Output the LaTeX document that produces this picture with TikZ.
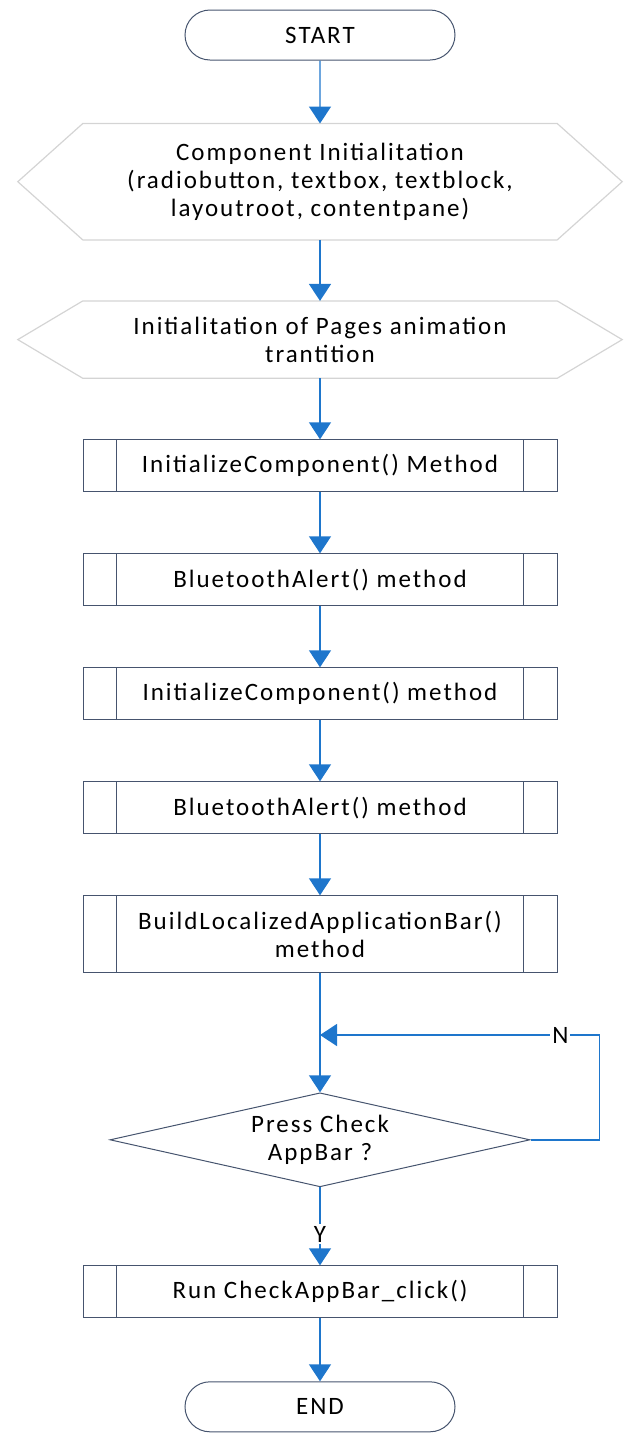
\documentclass[tikz,border=0pt]{standalone}
\usepackage{fontspec}
\setmainfont[LetterSpace=8]{Carlito}
\usepackage{tikz}
\usetikzlibrary{positioning}
\usetikzlibrary{shapes.misc,shapes.geometric,arrows.meta}
\tikzset{node distance=61pt, auto}
\definecolor{flowblue}{RGB}{30,118,204}
\definecolor{boxline}{RGB}{70,84,110}
\definecolor{hexline}{RGB}{212,212,212}
\tikzset{
  term/.style={draw=boxline, line width=1pt, rounded rectangle, minimum width=270pt, minimum height=50pt, inner sep=0pt},
  prep/.style={minimum width=604pt, inner sep=0pt, align=center},
  subproc/.style={draw=boxline, line width=1pt, rectangle, minimum width=474pt, minimum height=52pt, inner sep=0pt, align=center},
  decide/.style={draw=boxline, line width=1pt, diamond, aspect=4.5, minimum width=420pt, minimum height=94pt, inner sep=0pt, align=center},
  flow/.style={draw=flowblue, line width=1.4pt, -{Triangle[width=22pt,length=17pt]}},
  lbl/.style={auto=false, fill=white, inner sep=2pt}
}
\begin{document}
\begin{tikzpicture}[x=1pt, y=1pt, font=\fontsize{25}{28}\selectfont]
   \useasboundingbox (0,0) rectangle (629,-1433);
   \node(start) [term] at (320,-35) {START};
   \node(init) [prep, minimum height=116pt, below=63pt of start] {Component Initialitation\\(radiobutton, textbox, textblock,\\layoutroot, contentpane)};
   \node(anim) [prep, minimum height=77pt, below=of init] {Initialitation of Pages animation\\trantition};
   \node(p1) [subproc, below=of anim] {InitializeComponent() Method};
   \node(p2) [subproc, below=of p1] {BluetoothAlert() method};
   \node(p3) [subproc, below=of p2] {InitializeComponent() method};
   \node(p4) [subproc, below=of p3] {BluetoothAlert() method};
   \node(p5) [subproc, minimum height=77pt, below=of p4] {BuildLocalizedApplicationBar()\\method};
   \node(check) [decide, below=119pt of p5] {Press Check\\AppBar ?};
   \node(run) [subproc, below=78pt of check] {Run CheckAppBar\_click()};
   \node(stop) [term, below=63pt of run] {END};
   \coordinate(merge) at (320,-1035);
   \foreach \n in {init,anim}
      \draw[hexline, line width=1.2pt] (\n.west) -- ([xshift=65pt]\n.north west) -- ([xshift=-65pt]\n.north east) -- (\n.east) -- ([xshift=-65pt]\n.south east) -- ([xshift=65pt]\n.south west) -- cycle;
   \foreach \n in {p1,p2,p3,p4,p5,run} {
      \draw[boxline, line width=1pt] ([xshift=34pt]\n.north west) -- ([xshift=34pt]\n.south west);
      \draw[boxline, line width=1pt] ([xshift=-34pt]\n.north east) -- ([xshift=-34pt]\n.south east);
   }
   \draw[flow] (start) -- (init);
   \draw[flow] (init) -- (anim);
   \draw[flow] (anim) -- (p1);
   \draw[flow] (p1) -- (p2);
   \draw[flow] (p2) -- (p3);
   \draw[flow] (p3) -- (p4);
   \draw[flow] (p4) -- (p5);
   \draw[flow] (p5) -- (check);
   \draw[flow] (check.east) -- ([xshift=69pt]check.east) |- node[lbl, pos=0.57] {N} (merge);
   \draw[flow] (check) -- node[lbl, pos=0.6] {Y} (run);
   \draw[flow] (run) -- (stop);
\end{tikzpicture}
\end{document}
